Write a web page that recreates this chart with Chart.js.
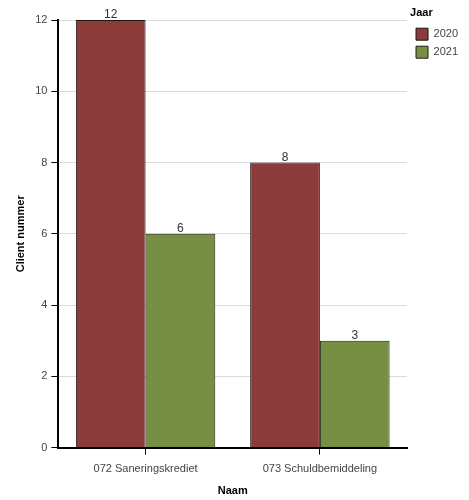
<!DOCTYPE html>
<html><head><meta charset="utf-8">
<script src="https://cdn.jsdelivr.net/npm/chart.js@4/dist/chart.umd.min.js"></script>
<style>html,body{margin:0;padding:0;background:#fff}#wrap{width:469px;height:500px;position:relative}</style>
</head><body><div id="wrap"><canvas id="c"></canvas></div>
<script>
const categories = ["072 Saneringskrediet", "073 Schuldbemiddeling"];
const years = ["2020", "2021"];
const values2020 = [12, 8];
const values2021 = [6, 3];
const yTicks = [0, 2, 4, 6, 8, 10, 12];

const valueLabels = {
  id: 'valueLabels',
  afterDatasetsDraw(chart) {
    const ctx = chart.ctx;
    ctx.save();
    ctx.font = '12px "Liberation Sans", Arial, sans-serif';
    ctx.fillStyle = '#333';
    ctx.textAlign = 'center';
    ctx.textBaseline = 'bottom';
    chart.data.datasets.forEach((ds, i) => {
      chart.getDatasetMeta(i).data.forEach((bar, j) => {
        ctx.fillText(String(ds.data[j]), bar.x, bar.y + 1);
      });
    });
    ctx.restore();
  }
};

const legendShift = {
  id: 'legendShift',
  afterLayout(chart) {
    const lg = chart.legend;
    if (lg) { lg.top -= 15; lg.bottom -= 15; lg.left += 3; lg.right += 3; }
  }
};

Chart.defaults.font.family = '"Liberation Sans", Arial, sans-serif';
Chart.defaults.color = '#444';

new Chart(document.getElementById('c'), {
  type: 'bar',
  data: {
    labels: categories,
    datasets: [
      { label: years[0], data: values2020, backgroundColor: '#8c3b3b', borderColor: '#1e1414', borderWidth: 1, categoryPercentage: 0.8, barPercentage: 1.0 },
      { label: years[1], data: values2021, backgroundColor: '#778f42', borderColor: '#1e1e14', borderWidth: 1, categoryPercentage: 0.8, barPercentage: 1.0 }
    ]
  },
  options: {
    responsive: true,
    maintainAspectRatio: false,
    animation: false,
    layout: { padding: { top: 20, right: 4, bottom: 2, left: 14 } },
    plugins: {
      tooltip: { enabled: false },
      legend: {
        position: 'right',
        align: 'start',
        title: { display: true, text: 'Jaar', color: '#000', font: { size: 11, weight: 'bold' }, padding: 2, position: 'start' },
        labels: { boxWidth: 12, boxHeight: 12, padding: 6, color: '#444', font: { size: 11 } }
      }
    },
    scales: {
      x: {
        grid: { display: true, drawOnChartArea: false, offset: false, tickLength: 7, color: '#000' },
        border: { display: true, color: '#000', width: 2 },
        ticks: { color: '#444', font: { size: 11 }, padding: 8 },
        title: { display: true, text: 'Naam', color: '#000', font: { size: 11, weight: 'bold' }, padding: { top: 1, bottom: 0 } }
      },
      y: {
        min: 0, max: 12,
        afterBuildTicks(axis) { axis.ticks = yTicks.map(v => ({ value: v })); },
        grid: { color: '#dcdcdc', tickLength: 7, tickColor: '#000' },
        border: { display: true, color: '#000', width: 2 },
        ticks: { color: '#444', font: { size: 11 }, padding: 4 },
        title: { display: true, text: 'Client nummer', color: '#000', font: { size: 11, weight: 'bold' }, padding: { top: 0, bottom: 4 } }
      }
    }
  },
  plugins: [valueLabels, legendShift]
});
</script></body></html>
